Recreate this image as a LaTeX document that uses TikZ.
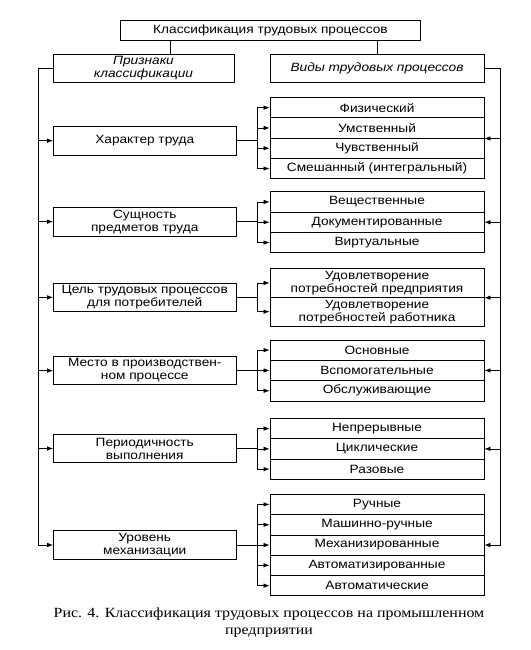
\documentclass[tikz,border=0pt]{standalone}
\usepackage{fontspec}
\setmainfont[FakeStretch=1.14]{Liberation Sans}
\newfontfamily\capfont[FakeStretch=1.14]{Liberation Serif}
\usetikzlibrary{arrows.meta}

\begin{document}
\begin{tikzpicture}[x=1pt,y=1pt]
\tikzstyle{every node}+=[inner sep=0pt, align=center, font=\fontsize{12}{13}\selectfont]
\tikzstyle{box}=[draw, line width=0.8pt, minimum height=28.5pt]
\tikzstyle{kbox}=[box, minimum width=182.5pt]
\tikzstyle{vrow}=[box, minimum width=214pt, minimum height=20.3pt]
\tikzstyle{link}=[line width=0.7pt]
\tikzstyle{arr}=[link, -{Latex[length=6pt,width=4.5pt]}]
\useasboundingbox (0,0) rectangle (530,-650);
% headers
\node [box, minimum width=300.8pt, minimum height=20.7pt] (top) at (270.4,-30.35) {Классификация трудовых процессов};
\node [box, minimum width=181pt] (hl) at (143.5,-68.2) {\itshape Признаки\\\itshape классификации};
\node [box, minimum width=214pt] (hr) at (377,-68.5) {\itshape Виды трудовых процессов};
\coordinate (tl) at (170.7,0);
\draw [link] (top.south -| tl) -- (hl.north -| tl);
\draw [link] (top.south -| hr.north) -- (hr.north);
% criteria
\node [kbox] (k1) at (144.75,-140.7) {Характер труда};
\node [kbox] (k2) at (144.75,-221.7) {Сущность\\предметов труда};
\node [kbox] (k3) at (144.75,-297.4) {Цель трудовых процессов\\для потребителей};
\node [kbox] (k4) at (144.75,-370.6) {Место в производствен-\\ном процессе};
\node [kbox] (k5) at (144.75,-448.5) {Периодичность\\выполнения};
\node [kbox] (k6) at (144.75,-545) {Уровень\\механизации};
% kinds
\node [vrow] (v1a) at (377,-107.65) {Физический};
\node [vrow] (v1b) at (377,-127.95) {Умственный};
\node [vrow] (v1c) at (377,-148.25) {Чувственный};
\node [vrow] (v1d) at (377,-168.55) {Смешанный (интегральный)};
\node [vrow] (v2a) at (377,-201.95) {Вещественные};
\node [vrow] (v2b) at (377,-222.25) {Документированные};
\node [vrow] (v2c) at (377,-242.55) {Виртуальные};
\node [vrow, minimum height=28.7pt] (v3a) at (377,-282.95) {Удовлетворение\\потребностей предприятия};
\node [vrow, minimum height=28.7pt] (v3b) at (377,-311.65) {Удовлетворение\\потребностей работника};
\node [vrow] (v4a) at (377,-350.15) {Основные};
\node [vrow] (v4b) at (377,-370.45) {Вспомогательные};
\node [vrow] (v4c) at (377,-390.75) {Обслуживающие};
\node [vrow] (v5a) at (377,-428.55) {Непрерывные};
\node [vrow] (v5b) at (377,-448.85) {Циклические};
\node [vrow] (v5c) at (377,-469.15) {Разовые};
\node [vrow] (v6a) at (377,-504.45) {Ручные};
\node [vrow] (v6b) at (377,-524.75) {Машинно-ручные};
\node [vrow] (v6c) at (377,-545.05) {Механизированные};
\node [vrow] (v6d) at (377,-565.35) {Автоматизированные};
\node [vrow] (v6e) at (377,-585.65) {Автоматические};
% buses
\coordinate (lb) at (38,0);
\coordinate (rb) at (500.7,0);
\coordinate (jx) at (257,0);
\draw [arr] (hl.west) -- (hl.west -| lb) |- (k6.west);
\draw [arr] (k1.west -| lb) -- (k1.west);
\draw [arr] (k2.west -| lb) -- (k2.west);
\draw [arr] (k3.west -| lb) -- (k3.west);
\draw [arr] (k4.west -| lb) -- (k4.west);
\draw [arr] (k5.west -| lb) -- (k5.west);
\draw [arr] (hr.east) -- (hr.east -| rb) |- (v6c.east);
\draw [arr] (v1b.south east -| rb) -- (v1b.south east);
\draw [arr] (v2b.east -| rb) -- (v2b.east);
\draw [arr] (v3a.south east -| rb) -- (v3a.south east);
\draw [arr] (v4b.east -| rb) -- (v4b.east);
\draw [arr] (v5b.east -| rb) -- (v5b.east);
% group 1
\draw [link] (k1.east) -- (k1.east -| jx);
\draw [link] (v1a.west -| jx) -- (v1d.west -| jx);
\draw [arr] (v1a.west -| jx) -- (v1a.west);
\draw [arr] (v1b.west -| jx) -- (v1b.west);
\draw [arr] (v1c.west -| jx) -- (v1c.west);
\draw [arr] (v1d.west -| jx) -- (v1d.west);
% group 2
\draw [link] (k2.east) -- (k2.east -| jx);
\draw [link] (v2a.west -| jx) -- (v2c.west -| jx);
\draw [arr] (v2a.west -| jx) -- (v2a.west);
\draw [arr] (v2b.west -| jx) -- (v2b.west);
\draw [arr] (v2c.west -| jx) -- (v2c.west);
% group 3
\draw [link] (k3.east) -- (k3.east -| jx);
\draw [link] (v3a.west -| jx) -- (v3b.west -| jx);
\draw [arr] (v3a.west -| jx) -- (v3a.west);
\draw [arr] (v3b.west -| jx) -- (v3b.west);
% group 4
\draw [link] (k4.east) -- (k4.east -| jx);
\draw [link] (v4a.west -| jx) -- (v4c.west -| jx);
\draw [arr] (v4a.west -| jx) -- (v4a.west);
\draw [arr] (v4b.west -| jx) -- (v4b.west);
\draw [arr] (v4c.west -| jx) -- (v4c.west);
% group 5
\draw [link] (k5.east) -- (k5.east -| jx);
\draw [link] (v5a.west -| jx) -- (v5c.west -| jx);
\draw [arr] (v5a.west -| jx) -- (v5a.west);
\draw [arr] (v5b.west -| jx) -- (v5b.west);
\draw [arr] (v5c.west -| jx) -- (v5c.west);
% group 6
\draw [link] (k6.east) -- (k6.east -| jx);
\draw [link] (v6a.west -| jx) -- (v6e.west -| jx);
\draw [arr] (v6a.west -| jx) -- (v6a.west);
\draw [arr] (v6b.west -| jx) -- (v6b.west);
\draw [arr] (v6c.west -| jx) -- (v6c.west);
\draw [arr] (v6d.west -| jx) -- (v6d.west);
\draw [arr] (v6e.west -| jx) -- (v6e.west);
% caption
\node [font=\capfont\fontsize{14}{17}\selectfont] (cap) at (269,-623) {Рис. 4. Классификация трудовых процессов на промышленном\\предприятии};
\end{tikzpicture}
\end{document}
